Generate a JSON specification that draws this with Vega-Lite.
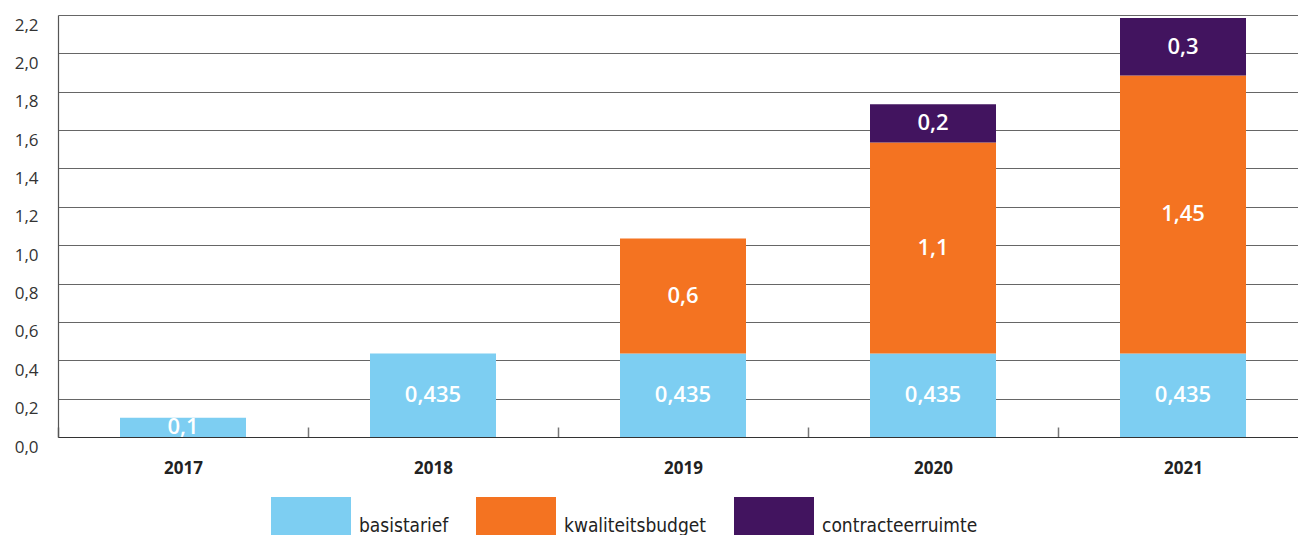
{
  "$schema": "https://vega.github.io/schema/vega-lite/v6.json",
  "autosize": "none",
  "padding": {"left": 58, "top": 15, "right": 0, "bottom": 98},
  "width": 1250,
  "height": 422,
  "background": "white",
  "config": {
    "view": {"stroke": null},
    "locale": {"number": {"decimal": ",", "thousands": ".", "grouping": [3], "currency": ["€", ""]}},
    "font": "Open Sans",
    "axisY": {
      "title": null,
      "values": [0, 0.2, 0.4, 0.6, 0.8, 1.0, 1.2, 1.4, 1.6, 1.8, 2.0, 2.2],
      "format": ".1f",
      "labelOverlap": false,
      "grid": true, "gridColor": "#666", "gridWidth": 1.2,
      "ticks": false, "tickSize": 0,
      "domain": true, "domainColor": "#555", "domainWidth": 1.2,
      "labelPadding": 20, "labelOffset": 10, "labelFontSize": 17, "labelColor": "#333",
      "labelFont": "Open Sans"
    }
  },
  "data": {
    "values": [
      {"year": "2017", "series": "basistarief", "value": 0.1},
      {"year": "2018", "series": "basistarief", "value": 0.435},
      {"year": "2019", "series": "basistarief", "value": 0.435},
      {"year": "2019", "series": "kwaliteitsbudget", "value": 0.6},
      {"year": "2020", "series": "basistarief", "value": 0.435},
      {"year": "2020", "series": "kwaliteitsbudget", "value": 1.1},
      {"year": "2020", "series": "contracteerruimte", "value": 0.2},
      {"year": "2021", "series": "basistarief", "value": 0.435},
      {"year": "2021", "series": "kwaliteitsbudget", "value": 1.45},
      {"year": "2021", "series": "contracteerruimte", "value": 0.3}
    ]
  },
  "transform": [
    {"stack": "value", "groupby": ["year"], "as": ["v0", "v1"]}
  ],
  "layer": [
    {
      "mark": {"type": "bar", "width": {"band": 0.504}},
      "encoding": {
        "x": {
          "field": "year", "type": "nominal",
          "scale": {"paddingInner": 0, "paddingOuter": 0},
          "axis": {
            "title": null, "labelAngle": 0, "grid": false,
            "domainColor": "#333", "domainWidth": 1.2,
            "ticks": true, "tickBand": "extent", "tickSize": -10, "tickColor": "#777", "tickWidth": 1.5,
            "labelPadding": 33, "labelFontSize": 17, "labelFontWeight": "bold", "labelColor": "#222",
            "labelFont": "Open Sans"
          }
        },
        "y": {
          "field": "v0", "type": "quantitative",
          "scale": {"domain": [0, 2.2], "nice": false},
          "axis": {"values": [0, 0.2, 0.4, 0.6, 0.8, 1.0, 1.2, 1.4, 1.6, 1.8, 2.0, 2.2], "format": ".1f", "labelOverlap": false}
        },
        "y2": {"field": "v1"},
        "color": {
          "field": "series", "type": "nominal",
          "scale": {
            "domain": ["basistarief", "kwaliteitsbudget", "contracteerruimte"],
            "range": ["#7DCEF2", "#F47321", "#42145F"]
          },
          "legend": {
            "title": null,
            "orient": "none",
            "direction": "horizontal",
            "legendX": 213,
            "legendY": 462,
            "padding": 0,
            "symbolType": "M-1,-0.5H1V0.5H-1Z",
            "symbolSize": 6400,
            "symbolStrokeWidth": 0,
            "symbolOpacity": 1,
            "labelOffset": 8,
            "labelFontSize": 19,
            "labelFont": "Liberation Sans Narrow, DejaVu Sans Condensed, Open Sans",
            "labelColor": "#222",
            "labelBaseline": "top",
            "columnPadding": 27
          }
        }
      }
    },
    {
      "transform": [
        {"fold": ["v0", "v1"], "as": ["edge", "pos"]},
        {"aggregate": [{"op": "mean", "field": "pos", "as": "mid"}], "groupby": ["year", "series", "value"]}
      ],
      "mark": {"type": "text", "color": "white", "fontSize": 22, "fontWeight": 600, "font": "Open Sans", "baseline": "middle", "align": "center"},
      "encoding": {
        "x": {"field": "year", "type": "nominal"},
        "y": {
          "field": "mid", "type": "quantitative",
          "axis": {"values": [0, 0.2, 0.4, 0.6, 0.8, 1.0, 1.2, 1.4, 1.6, 1.8, 2.0, 2.2], "format": ".1f", "labelOverlap": false}
        },
        "text": {"field": "value", "type": "quantitative", "format": ".3~f"}
      }
    }
  ]
}
